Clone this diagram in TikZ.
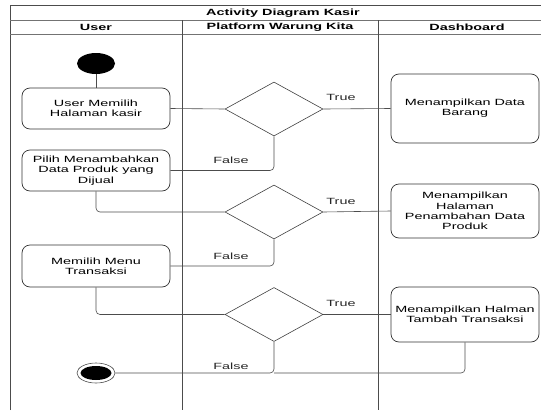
\documentclass[tikz,border=0pt]{standalone}
\usepackage{fontspec}
\setmainfont[FakeStretch=1.6]{Liberation Sans}
\usetikzlibrary{shapes.geometric}
\begin{document}
\begin{tikzpicture}[x=1pt,y=-1pt,
  lane/.style={draw=black!70,line width=0.9pt},
  act/.style={draw=black!80,rounded corners=8pt,line width=0.7pt,minimum width=148pt,align=center,inner sep=1pt,font=\fontsize{9}{10.3}\selectfont},
  dec/.style={draw=black!75,diamond,line width=0.6pt,minimum width=98pt,minimum height=54pt,inner sep=0pt},
  flow/.style={draw=black!70,line width=0.6pt,rounded corners=4pt},
  lbl/.style={font=\fontsize{9}{10}\selectfont,text=black!85,inner sep=0pt},
  hdr/.style={font=\fontsize{9}{10}\selectfont\bfseries,inner sep=0pt}]
\useasboundingbox (0,0) rectangle (541,410);
% frame
\draw[lane] (10,410) -- (10,5) -- (556,5);
\draw[lane,draw=black!55] (10,20) -- (556,20);
\draw[lane,draw=black!55] (10,34) -- (556,34);
\draw[lane] (182,20) -- (182,410);
\draw[lane] (378,20) -- (378,410);
\node[hdr] (title) at (283,12.8) {Activity Diagram Kasir};
\node[hdr] (huser) at (96,27.3) {User};
\node[hdr] (hplat) at (280,27.3) {Platform Warung Kita};
\node[hdr] (hdash) at (467,27.3) {Dashboard};
% nodes
\node[ellipse,fill=black,minimum width=38pt,minimum height=21pt,inner sep=0pt] (start) at (96,63.5) {};
\node[act,minimum height=41pt] (b1) at (96,108.5) {User Memilih\\Halaman kasir};
\node[act,minimum height=41pt] (b2) at (96,170.5) {Pilih Menambahkan\\Data Produk yang\\Dijual};
\node[act,minimum height=42pt] (b3) at (96,266) {Memilih Menu\\Transaksi};
\node[dec] (d1) at (274,109) {};
\node[dec] (d2) at (274,212) {};
\node[dec] (d3) at (274,314.5) {};
\node[act,minimum height=69pt] (s1) at (465,108.5) {Menampilkan Data\\Barang};
\node[act,minimum height=54pt] (s2) at (465,211) {Menampilkan\\Halaman\\Penambahan Data\\Produk};
\node[act,minimum height=55pt] (s3) at (465,314.5) {Menampilkan Halman\\Tambah Transaksi};
\node[ellipse,draw=black!70,line width=0.6pt,minimum width=38pt,minimum height=20pt,inner sep=0pt] (end) at (96,373) {};
\node[ellipse,fill=black,minimum width=31pt,minimum height=14pt,inner sep=0pt] (endin) at (96,373) {};
% connectors
\draw[flow] (start) -- (b1);
\draw[flow] (b1.east) -- (d1.west);
\draw[flow] (d1.east) -- (s1.west);
\draw[flow] (d1.south) |- (b2.east);
\draw[flow] (b2.south) |- (d2.west);
\draw[flow] (d2.east) -- (s2.west);
\draw[flow] (d2.south) |- (b3.east);
\draw[flow] (b3.south) |- (d3.west);
\draw[flow] (d3.east) -- (s3.west);
\draw[flow] (d3.south) |- (end.east);
\coordinate (j) at (274,373);
\draw[flow] (s3.south) |- (j);
% labels
\node[lbl] (t1) at (341,97) {True};
\node[lbl] (t2) at (341,201) {True};
\node[lbl] (t3) at (341,303) {True};
\node[lbl] (f1) at (231,160) {False};
\node[lbl] (f2) at (231,256) {False};
\node[lbl] (f3) at (231,366) {False};
\end{tikzpicture}
\end{document}
